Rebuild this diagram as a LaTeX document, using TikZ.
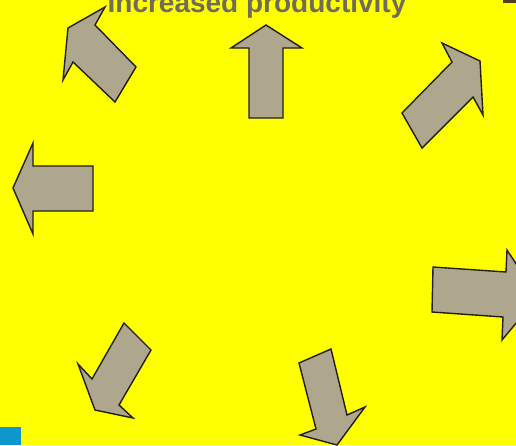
\documentclass[tikz,border=0pt]{standalone}
\usepackage{fontspec}
\setmainfont{Liberation Sans}
\definecolor{bgyellow}{RGB}{255,255,0}
\definecolor{arrowfill}{RGB}{174,167,142}
\definecolor{arrowline}{RGB}{35,32,18}
\definecolor{titlegray}{RGB}{112,108,88}
\definecolor{cornerblue}{RGB}{14,150,205}
\definecolor{markbrown}{RGB}{80,62,30}
\tikzset{
  bigarrow/.style={fill=arrowfill, draw=arrowline, line width=1.4pt, line join=miter},
  titletext/.style={font=\bfseries\fontsize{28}{30}\selectfont, text=titlegray, inner sep=0pt, anchor=base}
}
\begin{document}
\begin{tikzpicture}[x=1pt,y=-1pt]
\useasboundingbox (0,0) rectangle (516,445);
\clip (0,0) rectangle (516,445);
\fill[bgyellow] (0,0) rectangle (516,445);
% title (cut by the top edge, as in the reference)
\node[titletext] (title) at (257,12.5) {Increased productivity};
% corner marks
\fill[markbrown] (503,0) rectangle (516,3);
\fill[cornerblue] (0,427) rectangle (21,445);
% top-left arrow
\draw[bigarrow] (68,28) -- (105,7) -- (95,25) -- (136,67) -- (115,102) -- (73,62) -- (63,80) -- cycle;
% up arrow
\draw[bigarrow] (266,25) -- (302,48) -- (283,48) -- (283,118) -- (249,118) -- (249,48) -- (231,48) -- cycle;
% top-right arrow
\draw[bigarrow] (480,61) -- (442,43) -- (452,62) -- (402,113) -- (422,148) -- (473,97) -- (483,115) -- cycle;
% left arrow
\draw[bigarrow] (13,188) -- (33,143) -- (33,166) -- (93,166) -- (93,211) -- (33,211) -- (33,234) -- cycle;
% right arrow (tip beyond the edge)
\draw[bigarrow] (538,297) -- (507,250) -- (506,272) -- (433,267) -- (432,312) -- (503,317) -- (502,340) -- cycle;
% bottom-left arrow
\draw[bigarrow] (95,410) -- (78,364) -- (92,379) -- (124,323) -- (151,350) -- (119,405) -- (133,418) -- cycle;
% bottom arrow
\draw[bigarrow] (337,445) -- (365,407) -- (347,415) -- (331,349) -- (299,363) -- (316,429) -- (300,435) -- cycle;
\end{tikzpicture}
\end{document}
